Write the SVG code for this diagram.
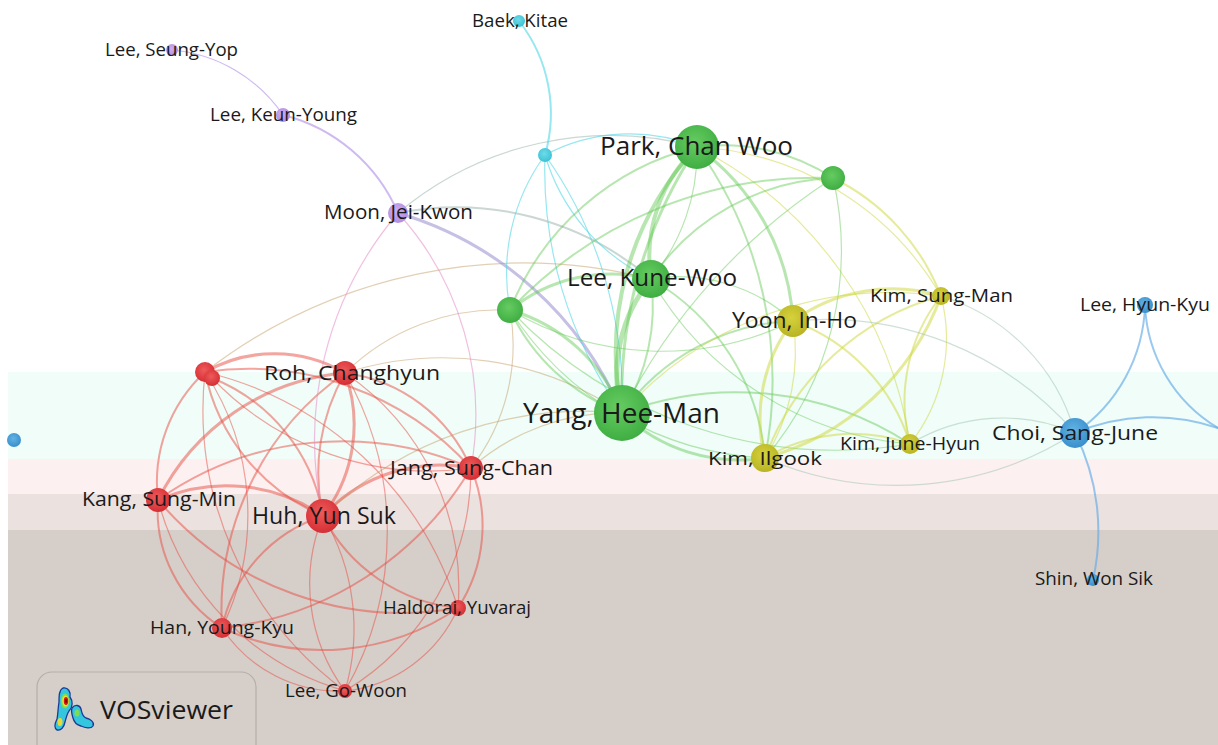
<svg xmlns="http://www.w3.org/2000/svg" width="1218" height="745" viewBox="0 0 1218 745">
<style>
text{font-family:"Open Sans","Noto Sans","DejaVu Sans",sans-serif;fill:#1a1a1a;text-anchor:middle}
path{fill:none;stroke-linecap:round}
.w1{stroke-width:1.2}.w2{stroke-width:2}.w3{stroke-width:3}.w4{stroke-width:4}.w5{stroke-width:5}
.er{stroke:rgba(232,75,65,0.5)}
.eb{stroke:rgba(190,150,90,0.45)}
.ep{stroke:rgba(230,140,200,0.55)}
.eu{stroke:rgba(175,140,230,0.6)}
.ev{stroke:rgba(150,140,205,0.55)}
.eq{stroke:rgba(150,175,165,0.5)}
.ec{stroke:rgba(80,215,230,0.6)}
.eg{stroke:rgba(95,200,80,0.45)}
.ey{stroke:rgba(205,215,55,0.5)}
.eyb{stroke:rgba(160,195,175,0.5)}
.eB{stroke:rgba(100,170,230,0.65)}
.nr{fill:url(#gr)}.ng{fill:url(#gg)}.ny{fill:url(#gy)}.nb{fill:url(#gb)}.nu{fill:url(#gu)}.nc{fill:url(#gc)}
.blob{fill:#34c6de;stroke:#1b3a96;stroke-width:1.3}
</style>
<defs>
<radialGradient id="gr" cx="0.45" cy="0.4" r="0.6"><stop offset="0" stop-color="#ef5a5a"/><stop offset="1" stop-color="#d42f35"/></radialGradient>
<radialGradient id="gg" cx="0.45" cy="0.4" r="0.6"><stop offset="0" stop-color="#66cc62"/><stop offset="1" stop-color="#3fae42"/></radialGradient>
<radialGradient id="gy" cx="0.45" cy="0.4" r="0.6"><stop offset="0" stop-color="#d6d23c"/><stop offset="1" stop-color="#b9b424"/></radialGradient>
<radialGradient id="gb" cx="0.45" cy="0.4" r="0.6"><stop offset="0" stop-color="#62b2e4"/><stop offset="1" stop-color="#3a90cc"/></radialGradient>
<radialGradient id="gu" cx="0.45" cy="0.4" r="0.6"><stop offset="0" stop-color="#ceaef0"/><stop offset="1" stop-color="#b38ce0"/></radialGradient>
<radialGradient id="gc" cx="0.45" cy="0.4" r="0.6"><stop offset="0" stop-color="#6edbe8"/><stop offset="1" stop-color="#3cc2d6"/></radialGradient>
</defs>
<rect x="0" y="0" width="1218" height="745" fill="#ffffff"/>
<g id="background">
<rect x="8" y="372" width="1210" height="87" fill="#f0fdf9"/>
<rect x="8" y="459" width="1210" height="35" fill="#fcf0f0"/>
<rect x="8" y="494" width="1210" height="36" fill="#ebe1de"/>
<rect x="8" y="530" width="1210" height="215" fill="#d6cec9"/>
</g>
<g id="connectors">
<path class="er w3" d="M205 372 A140 140 0 0 1 345 373"/>
<path class="er w2" d="M205 372 A300 300 0 0 1 471 468"/>
<path class="er w2" d="M205 372 A150 150 0 0 0 158 500"/>
<path class="er w2" d="M205 372 A200 200 0 0 0 323 516"/>
<path class="er w1" d="M205 372 A260 260 0 0 1 222 628"/>
<path class="er w1" d="M205 372 A350 350 0 0 1 458 608"/>
<path class="er w1" d="M205 372 A350 350 0 0 0 345 691"/>
<path class="er w2" d="M212 378 A180 180 0 0 1 323 516"/>
<path class="er w1" d="M212 378 A300 300 0 0 0 471 468"/>
<path class="er w2" d="M345 373 A160 160 0 0 1 471 468"/>
<path class="er w3" d="M345 373 A230 230 0 0 0 158 500"/>
<path class="er w3" d="M345 373 A150 150 0 0 1 323 516"/>
<path class="er w2" d="M345 373 A200 200 0 0 0 323 516"/>
<path class="er w2" d="M345 373 A290 290 0 0 0 222 628"/>
<path class="er w1" d="M345 373 A260 260 0 0 1 458 608"/>
<path class="er w1" d="M345 373 A320 320 0 0 1 345 691"/>
<path class="er w3" d="M158 500 A170 170 0 0 1 323 516"/>
<path class="er w2" d="M158 500 A320 320 0 0 1 471 468"/>
<path class="er w2" d="M158 500 A140 140 0 0 0 222 628"/>
<path class="er w2" d="M158 500 A320 320 0 0 0 458 608"/>
<path class="er w1" d="M158 500 A270 270 0 0 0 345 691"/>
<path class="er w3" d="M323 516 A160 160 0 0 1 471 468"/>
<path class="er w2" d="M323 516 A150 150 0 0 0 222 628"/>
<path class="er w2" d="M323 516 A170 170 0 0 0 458 608"/>
<path class="er w1" d="M323 516 A180 180 0 0 0 345 691"/>
<path class="er w1" d="M323 516 A220 220 0 0 1 345 691"/>
<path class="er w2" d="M471 468 A330 330 0 0 1 222 628"/>
<path class="er w2" d="M471 468 A150 150 0 0 1 458 608"/>
<path class="er w1" d="M471 468 A260 260 0 0 1 345 691"/>
<path class="er w2" d="M222 628 A240 240 0 0 0 458 608"/>
<path class="er w1" d="M222 628 A140 140 0 0 0 345 691"/>
<path class="er w1" d="M458 608 A140 140 0 0 1 345 691"/>
<path class="eb w1" d="M345 373 A220 220 0 0 1 510 310"/>
<path class="eb w1" d="M471 468 A220 220 0 0 1 622 413"/>
<path class="eb w1" d="M471 468 A200 200 0 0 0 510 310"/>
<path class="eb w1" d="M323 516 A380 380 0 0 1 622 413"/>
<path class="eb w1" d="M205 372 A520 520 0 0 1 651 279"/>
<path class="eb w1" d="M345 373 A320 320 0 0 1 622 413"/>
<path class="ep w1" d="M398 213 A350 350 0 0 0 323 516"/>
<path class="ep w1" d="M398 213 A300 300 0 0 1 471 468"/>
<path class="eu w1" d="M172 50 A150 150 0 0 1 283 115"/>
<path class="eu w2" d="M283 115 A170 170 0 0 1 398 213"/>
<path class="ev w3" d="M398 213 A350 350 0 0 1 622 413"/>
<path class="eq w2" d="M398 213 A300 300 0 0 1 651 279"/>
<path class="eq w1" d="M398 213 A330 330 0 0 1 697 147"/>
<path class="ec w2" d="M519 21 A150 150 0 0 1 545 155"/>
<path class="ec w1" d="M545 155 A420 420 0 0 0 622 413"/>
<path class="ec w1" d="M545 155 A420 420 0 0 1 622 413"/>
<path class="ec w1" d="M545 155 A180 180 0 0 1 697 147"/>
<path class="ec w1" d="M545 155 A200 200 0 0 0 510 310"/>
<path class="ec w1" d="M545 155 A200 200 0 0 0 651 279"/>
<path class="eg w4" d="M697 147 A150 150 0 0 0 651 279"/>
<path class="eg w1" d="M697 147 A200 200 0 0 1 651 279"/>
<path class="eg w4" d="M697 147 A300 300 0 0 0 622 413"/>
<path class="eg w3" d="M697 147 A450 450 0 0 0 622 413"/>
<path class="eg w2" d="M697 147 A270 270 0 0 0 510 310"/>
<path class="eg w2" d="M697 147 A200 200 0 0 1 833 178"/>
<path class="eg w3" d="M697 147 A230 230 0 0 1 793 321"/>
<path class="eg w2" d="M697 147 A400 400 0 0 1 765 458"/>
<path class="ey w1" d="M697 147 A400 400 0 0 1 910 444"/>
<path class="ey w1" d="M697 147 A300 300 0 0 1 941 296"/>
<path class="ey w2" d="M833 178 A220 220 0 0 1 941 296"/>
<path class="eg w2" d="M833 178 A230 230 0 0 0 651 279"/>
<path class="eg w2" d="M833 178 A420 420 0 0 0 510 310"/>
<path class="eg w1" d="M833 178 A600 600 0 0 0 622 413"/>
<path class="eg w1" d="M833 178 A320 320 0 0 1 765 458"/>
<path class="eg w5" d="M651 279 A150 150 0 0 0 622 413"/>
<path class="eg w2" d="M651 279 A200 200 0 0 1 622 413"/>
<path class="eg w3" d="M651 279 A160 160 0 0 0 510 310"/>
<path class="eg w1" d="M651 279 A170 170 0 0 1 793 321"/>
<path class="eg w2" d="M651 279 A230 230 0 0 1 765 458"/>
<path class="eg w1" d="M651 279 A330 330 0 0 0 910 444"/>
<path class="eg w3" d="M510 310 A170 170 0 0 1 622 413"/>
<path class="eg w2" d="M510 310 A200 200 0 0 0 622 413"/>
<path class="eg w1" d="M510 310 A300 300 0 0 0 793 321"/>
<path class="eg w1" d="M510 310 A320 320 0 0 0 765 458"/>
<path class="eg w1" d="M510 310 A450 450 0 0 0 910 444"/>
<path class="eg w2" d="M622 413 A220 220 0 0 1 793 321"/>
<path class="eg w3" d="M622 413 A170 170 0 0 0 765 458"/>
<path class="eg w2" d="M622 413 A320 320 0 0 1 910 444"/>
<path class="ey w1" d="M622 413 A360 360 0 0 1 941 296"/>
<path class="ey w3" d="M793 321 A170 170 0 0 1 941 296"/>
<path class="ey w3" d="M793 321 A160 160 0 0 0 765 458"/>
<path class="ey w1" d="M793 321 A200 200 0 0 1 765 458"/>
<path class="ey w2" d="M793 321 A190 190 0 0 1 910 444"/>
<path class="ey w3" d="M941 296 A260 260 0 0 1 765 458"/>
<path class="ey w2" d="M941 296 A260 260 0 0 0 765 458"/>
<path class="ey w2" d="M941 296 A170 170 0 0 0 910 444"/>
<path class="ey w1" d="M941 296 A170 170 0 0 1 910 444"/>
<path class="ey w2" d="M765 458 A170 170 0 0 1 910 444"/>
<path class="eyb w1" d="M765 458 A330 330 0 0 0 1075 433"/>
<path class="eyb w1" d="M910 444 A180 180 0 0 1 1075 433"/>
<path class="eyb w1" d="M941 296 A200 200 0 0 1 1075 433"/>
<path class="eyb w1" d="M793 321 A330 330 0 0 1 1075 433"/>
<path class="eB w2" d="M1145 305 A160 160 0 0 1 1075 433"/>
<path class="eB w2" d="M1145 305 A150 150 0 0 0 1218 428"/>
<path class="eB w2" d="M1075 433 A200 200 0 0 1 1218 428"/>
<path class="eB w2" d="M1075 433 A220 220 0 0 1 1093 580"/>
</g>
<g id="node-baek"><circle class="nc" cx="519" cy="21" r="6"/><text x="520" y="27" font-size="17.5" textLength="96" lengthAdjust="spacingAndGlyphs">Baek, Kitae</text></g>
<g id="node-cyan2"><circle class="nc" cx="545" cy="155" r="7"/></g>
<g id="node-lee-seung-yop"><circle class="nu" cx="172" cy="50" r="6"/><text x="171.5" y="56" font-size="18" textLength="133" lengthAdjust="spacingAndGlyphs">Lee, Seung-Yop</text></g>
<g id="node-lee-keun-young"><circle class="nu" cx="283" cy="115" r="7"/><text x="283.5" y="121" font-size="18.5" textLength="147" lengthAdjust="spacingAndGlyphs">Lee, Keun-Young</text></g>
<g id="node-moon"><circle class="nu" cx="398" cy="213" r="10"/><text x="398.5" y="219" font-size="20" textLength="149" lengthAdjust="spacingAndGlyphs">Moon, Jei-Kwon</text></g>
<g id="node-park"><circle class="ng" cx="697" cy="147" r="22"/><text x="696.5" y="155" font-size="25.5" textLength="193" lengthAdjust="spacingAndGlyphs">Park, Chan Woo</text></g>
<g id="node-green2"><circle class="ng" cx="833" cy="178" r="12"/></g>
<g id="node-lee-kune-woo"><circle class="ng" cx="651" cy="279" r="19"/><text x="652" y="286" font-size="23.5" textLength="170" lengthAdjust="spacingAndGlyphs">Lee, Kune-Woo</text></g>
<g id="node-green3"><circle class="ng" cx="510" cy="310" r="13"/></g>
<g id="node-yoon"><circle class="ny" cx="793" cy="321" r="16"/><text x="794.5" y="328" font-size="21.5" textLength="125" lengthAdjust="spacingAndGlyphs">Yoon, In-Ho</text></g>
<g id="node-kim-sung-man"><circle class="ny" cx="941" cy="296" r="9"/><text x="941.5" y="302" font-size="19" textLength="143" lengthAdjust="spacingAndGlyphs">Kim, Sung-Man</text></g>
<g id="node-lee-hyun-kyu"><circle class="nb" cx="1145" cy="305" r="8"/><text x="1145" y="311" font-size="18.5" textLength="130" lengthAdjust="spacingAndGlyphs">Lee, Hyun-Kyu</text></g>
<g id="node-red1"><circle class="nr" cx="205" cy="372" r="10"/><circle class="nr" cx="212" cy="378" r="8"/></g>
<g id="node-roh"><circle class="nr" cx="345" cy="373" r="12"/><text x="352" y="380" font-size="20" textLength="176" lengthAdjust="spacingAndGlyphs">Roh, Changhyun</text></g>
<g id="node-yang"><circle class="ng" cx="622" cy="413" r="28"/><text x="621.5" y="423" font-size="28" textLength="197" lengthAdjust="spacingAndGlyphs">Yang, Hee-Man</text></g>
<g id="node-kim-ilgook"><circle class="ny" cx="765" cy="458" r="14"/><text x="765" y="465" font-size="19" textLength="114" lengthAdjust="spacingAndGlyphs">Kim, Ilgook</text></g>
<g id="node-kim-june-hyun"><circle class="ny" cx="910" cy="444" r="10"/><text x="910" y="450" font-size="18.5" textLength="140" lengthAdjust="spacingAndGlyphs">Kim, June-Hyun</text></g>
<g id="node-choi"><circle class="nb" cx="1075" cy="433" r="15"/><text x="1075" y="440" font-size="20" textLength="166" lengthAdjust="spacingAndGlyphs">Choi, Sang-June</text></g>
<g id="node-blue-left"><circle class="nb" cx="14" cy="440" r="7"/></g>
<g id="node-jang"><circle class="nr" cx="471" cy="468" r="12"/><text x="471.5" y="475" font-size="20" textLength="163" lengthAdjust="spacingAndGlyphs">Jang, Sung-Chan</text></g>
<g id="node-kang"><circle class="nr" cx="158" cy="500" r="12"/><text x="159" y="506" font-size="20" textLength="154" lengthAdjust="spacingAndGlyphs">Kang, Sung-Min</text></g>
<g id="node-huh"><circle class="nr" cx="323" cy="516" r="17"/><text x="324" y="524" font-size="23" textLength="144" lengthAdjust="spacingAndGlyphs">Huh, Yun Suk</text></g>
<g id="node-haldorai"><circle class="nr" cx="458" cy="608" r="8"/><text x="457" y="614" font-size="17.5" textLength="148" lengthAdjust="spacingAndGlyphs">Haldorai, Yuvaraj</text></g>
<g id="node-han"><circle class="nr" cx="222" cy="628" r="10"/><text x="222" y="634" font-size="19" textLength="144" lengthAdjust="spacingAndGlyphs">Han, Young-Kyu</text></g>
<g id="node-lee-go-woon"><circle class="nr" cx="345" cy="691" r="7"/><text x="346" y="697" font-size="18" textLength="122" lengthAdjust="spacingAndGlyphs">Lee, Go-Woon</text></g>
<g id="node-shin"><circle class="nb" cx="1093" cy="580" r="6"/><text x="1094" y="585" font-size="17.5" textLength="118" lengthAdjust="spacingAndGlyphs">Shin, Won Sik</text></g>
<g id="logo">
<rect x="37" y="672" width="219" height="90" rx="15" fill="none" stroke="#b5ada8" stroke-width="1.2"/>
<path class="blob" d="M63 688 C68 687 71 692 70 697 C73 701 73 707 69 711 C67 714 66 718 65 722 C64 727 61 731 57 730 C54 728 55 723 57 719 C58 714 58 708 59 702 C59 696 59 690 63 688 Z"/>
<ellipse cx="65" cy="701" rx="4.2" ry="7.5" fill="#7fdc50"/>
<ellipse cx="65.5" cy="701" rx="3.2" ry="5.5" fill="#f0e030"/>
<ellipse cx="66" cy="701" rx="2.2" ry="4" fill="#d81818"/>
<ellipse cx="66" cy="701" rx="1" ry="2" fill="#7a0000"/>
<ellipse cx="60" cy="722" rx="2.5" ry="4" fill="#e8d838"/>
<path class="blob" d="M72 708 C75 704 80 705 81 709 C82 713 82 716 86 718 C90 719 95 722 93 726 C91 729 85 728 81 726 C77 725 74 722 73 718 C72 715 71 711 72 708 Z"/>
<ellipse cx="77" cy="713" rx="2.5" ry="3.5" fill="#7fdc50"/>
<text x="100" y="719" font-size="26" textLength="133" lengthAdjust="spacingAndGlyphs" style="text-anchor:start">VOSviewer</text>
</g>
</svg>
